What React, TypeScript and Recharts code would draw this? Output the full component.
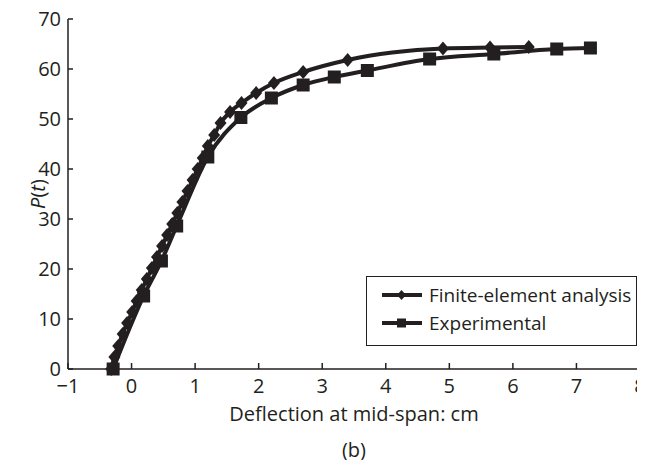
import { LineChart, Line, XAxis, YAxis, Legend } from "recharts";

const INK = "#231f20";
const FONT = "'Open Sans', sans-serif";

// Finite-element analysis (diamonds)
const FE_DEFLECTION = [
  -0.32, -0.27, -0.21, -0.14, -0.07, 0.01, 0.08, 0.16, 0.24, 0.32, 0.4, 0.48, 0.56, 0.64, 0.72, 0.8,
  0.88, 0.96, 1.04, 1.12, 1.2, 1.3, 1.4, 1.55, 1.73, 1.96, 2.24, 2.7, 3.4, 4.9, 5.64, 6.25,
];
const FE_LOAD = [
  0, 2.4, 4.6, 7.0, 9.2, 11.4, 13.6, 15.8, 18.0, 20.2, 22.4, 24.6, 26.8, 29.0, 31.2, 33.4,
  35.6, 37.8, 40.0, 42.2, 44.6, 46.8, 49.2, 51.4, 53.2, 55.2, 57.2, 59.4, 61.8, 64.1, 64.3, 64.4,
];

// Experimental (squares)
const EXP_DEFLECTION = [-0.29, 0.19, 0.47, 0.71, 1.2, 1.72, 2.2, 2.7, 3.19, 3.71, 4.69, 5.7, 6.69, 7.22];
const EXP_LOAD = [0, 14.6, 21.6, 28.6, 42.4, 50.3, 54.2, 56.8, 58.4, 59.7, 62.0, 63.0, 64.0, 64.2];

const SERIES_NAMES = ["Finite-element analysis", "Experimental"];
const X_TICKS = [-1, 0, 1, 2, 3, 4, 5, 6, 7, 8];
const Y_TICKS = [0, 10, 20, 30, 40, 50, 60, 70];

const feData = FE_DEFLECTION.map((x, i) => ({ x, p: FE_LOAD[i] }));
const expData = EXP_DEFLECTION.map((x, i) => ({ x, p: EXP_LOAD[i] }));

const fmt = (v: number) => String(v).replace("-", "\u2212");

function XTick({ x, y, payload }: any) {
  return (
    <g>
      <line x1={x} y1={y} x2={x} y2={y - 6} stroke={INK} strokeWidth={1.5} />
      <text x={x} y={y + 24} textAnchor="middle" fill={INK} fontSize={20} fontFamily={FONT}>
        {fmt(payload.value)}
      </text>
    </g>
  );
}

function YTick({ x, y, payload }: any) {
  return (
    <g>
      <line x1={x} y1={y} x2={x + 5} y2={y} stroke={INK} strokeWidth={1.5} />
      <text x={x - 7} y={y + 7} textAnchor="end" fill={INK} fontSize={20} fontFamily={FONT}>
        {fmt(payload.value)}
      </text>
    </g>
  );
}

function Diamond({ cx, cy, index }: any) {
  return (
    <polygon
      key={`fe-${index}`}
      points={`${cx},${cy - 7} ${cx + 6},${cy} ${cx},${cy + 7} ${cx - 6},${cy}`}
      fill={INK}
    />
  );
}

function Square({ cx, cy, index }: any) {
  return <rect key={`ex-${index}`} x={cx - 6.5} y={cy - 6.5} width={13} height={13} fill={INK} />;
}

function XTitle({ viewBox }: any) {
  const cx = viewBox.x + viewBox.width / 2;
  return (
    <g fill={INK} fontSize={20} fontFamily={FONT} textAnchor="middle">
      <text x={cx} y={viewBox.y + 52}>Deflection at mid-span: cm</text>
      <text x={cx} y={viewBox.y + 88}>(b)</text>
    </g>
  );
}

function YTitle({ viewBox }: any) {
  const cy = viewBox.y + viewBox.height / 2;
  return (
    <text
      x={29}
      y={cy}
      transform={`rotate(-90, 29, ${cy})`}
      textAnchor="middle"
      dominantBaseline="central"
      fill={INK}
      fontSize={20}
      fontFamily={FONT}
    >
      <tspan fontStyle="italic">P</tspan>(<tspan fontStyle="italic">t</tspan>)
    </text>
  );
}

function LegendBox({ payload }: any) {
  const items = [...(payload || [])].sort(
    (a: any, b: any) => SERIES_NAMES.indexOf(a.value) - SERIES_NAMES.indexOf(b.value)
  );
  return (
    <div
      style={{
        boxSizing: "border-box",
        width: 271,
        border: `1.5px solid ${INK}`,
        padding: "4px 0 8px 14px",
        fontFamily: FONT,
        fontSize: 19,
        color: INK,
        background: "#fff",
      }}
    >
      {items.map((entry: any) => (
        <div key={entry.value} style={{ display: "flex", alignItems: "center", height: 28 }}>
          <svg width={42} height={16} style={{ marginRight: 6 }}>
            <line x1={1} y1={8} x2={41} y2={8} stroke={INK} strokeWidth={4} />
            {entry.value === "Experimental" ? (
              <rect x={16} y={3.5} width={9} height={9} fill={INK} />
            ) : (
              <polygon points="20.5,3 25,8 20.5,13 16,8" fill={INK} />
            )}
          </svg>
          <span>{entry.value}</span>
        </div>
      ))}
    </div>
  );
}

export default function App() {
  return (
    <div style={{ height: 452 }}>
      <LineChart width={637} height={460} margin={{ top: 11, right: 5, left: 0, bottom: 0 }}>
        <XAxis
          type="number"
          dataKey="x"
          domain={[-1, 8]}
          ticks={X_TICKS}
          tickSize={0}
          tickMargin={0}
          tick={<XTick />}
          height={99}
          stroke={INK}
          strokeWidth={1.5}
          label={<XTitle />}
        />
        <YAxis
          type="number"
          dataKey="p"
          domain={[0, 70]}
          ticks={Y_TICKS}
          tickSize={0}
          tickMargin={0}
          tick={<YTick />}
          width={60}
          stroke={INK}
          strokeWidth={1.5}
          label={<YTitle />}
        />
        <Legend
          layout="vertical"
          align="center"
          verticalAlign="middle"
          content={<LegendBox />}
          wrapperStyle={{ left: 358, top: 268, width: 271 }}
        />
        <Line
          name={SERIES_NAMES[0]}
          data={feData}
          dataKey="p"
          type="monotone"
          stroke={INK}
          strokeWidth={4}
          dot={Diamond}
          activeDot={false}
          isAnimationActive={false}
        />
        <Line
          name={SERIES_NAMES[1]}
          data={expData}
          dataKey="p"
          type="monotone"
          stroke={INK}
          strokeWidth={4}
          dot={Square}
          activeDot={false}
          isAnimationActive={false}
        />
      </LineChart>
    </div>
  );
}
